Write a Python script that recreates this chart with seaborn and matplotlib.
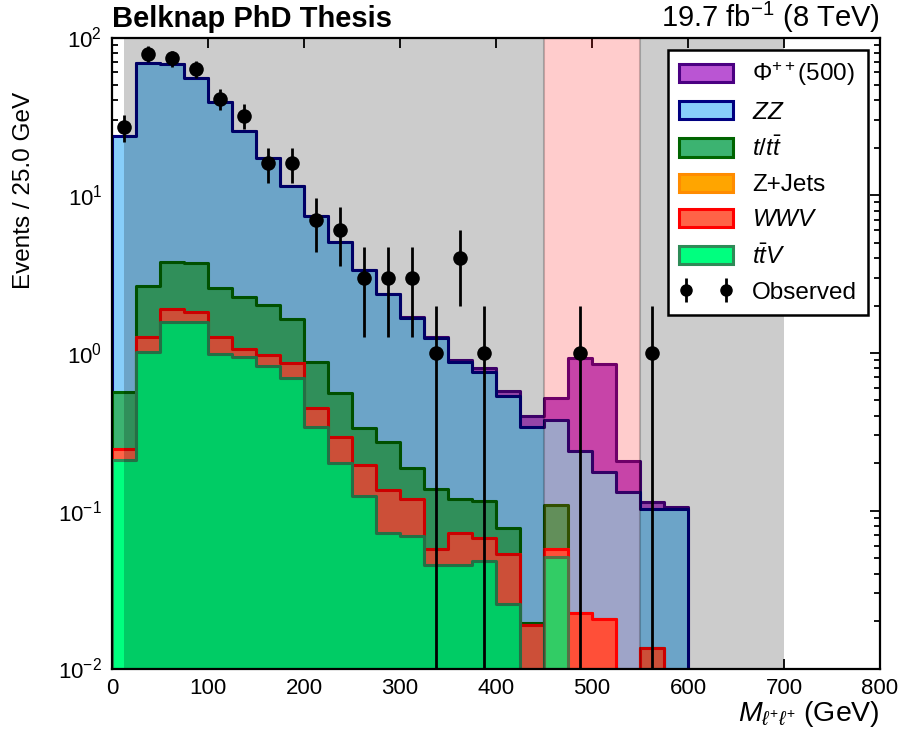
import numpy as np
import pandas as pd
import matplotlib
matplotlib.use("Agg")
import matplotlib.pyplot as plt
from matplotlib.patches import Patch
from matplotlib.ticker import MultipleLocator
import seaborn as sns

# 25 GeV bins from 0 to 600 GeV
bin_edges = np.arange(0, 625, 25)
bin_centers = 0.5 * (bin_edges[:-1] + bin_edges[1:])

# Expected yields per bin for each process
ttv = [0.21, 1.02, 1.57, 1.58, 0.985, 0.947, 0.83, 0.694, 0.342, 0.202, 0.124, 0.072,
       0.069, 0.045, 0.045, 0.048, 0.0255, 0.0, 0.051, 0.0, 0.0, 0.0, 0.0, 0.0]
wwv = [0.036, 0.24, 0.33, 0.23, 0.275, 0.113, 0.14, 0.166, 0.103, 0.09, 0.071, 0.064,
       0.05, 0.0125, 0.0277, 0.0196, 0.0275, 0.019, 0.006, 0.0226, 0.0205, 0.0, 0.0134, 0.0]
zjets = [0.0] * 24
ttbar = [0.317, 1.39, 1.9, 1.9, 1.34, 1.2, 1.05, 0.78, 0.428, 0.265, 0.139, 0.135,
         0.069, 0.0805, 0.0453, 0.0484, 0.025, 0.0005, 0.051, 0.0, 0.0, 0.0, 0.0, 0.0]
zz = [23.24, 66.35, 64.2, 51.29, 36.4, 23.34, 15.28, 9.76, 6.53, 4.49, 3.04, 2.09,
      1.48, 1.11, 0.755, 0.638, 0.457, 0.318, 0.269, 0.216, 0.155, 0.132, 0.089, 0.103]
phi500 = [0.001, 0.001, 0.001, 0.001, 0.001, 0.001, 0.002, 0.002, 0.003, 0.004, 0.006, 0.008,
          0.012, 0.02, 0.03, 0.045, 0.04, 0.06, 0.14, 0.69, 0.67, 0.075, 0.012, 0.002]

# Observed event counts
observed = [27, 79, 74, 63, 41, 32, 16, 16, 7, 6, 3, 3, 3, 1, 4, 1, 0, 0, 0, 1, 0, 0, 1, 0]

# Stack order (bottom to top): label, fill, edge, yields
processes = [
    (r"$t\bar{t}V$", "springgreen", "seagreen", ttv),
    (r"$WWV$", "tomato", "red", wwv),
    ("Z+Jets", "orange", "darkorange", zjets),
    (r"$t/t\bar{t}$", "mediumseagreen", "darkgreen", ttbar),
    (r"$ZZ$", "lightskyblue", "navy", zz),
    (r"$\Phi^{++}$(500)", "mediumorchid", "indigo", phi500),
]

sns.set_style("ticks")
plt.rcParams["font.family"] = ["Liberation Sans", "DejaVu Sans"]
plt.rcParams["mathtext.fontset"] = "custom"
plt.rcParams["mathtext.rm"] = "Liberation Sans"
plt.rcParams["mathtext.it"] = "Liberation Sans:italic"
plt.rcParams["mathtext.bf"] = "Liberation Sans:bold"
for key in ("text.color", "axes.labelcolor", "xtick.color", "ytick.color", "axes.edgecolor"):
    plt.rcParams[key] = "black"

fig = plt.figure(figsize=(9.04, 7.42), dpi=100)
ax = fig.add_axes([112 / 904, 1 - 668.5 / 742, 768 / 904, 631 / 742])
ax.set_yscale("log")

# Cumulative stack tops, drawn from the top layer down so lower layers overlay
cumulative = np.cumsum([np.asarray(p[3], dtype=float) for p in processes], axis=0)
for (label, face, edge, _), top in reversed(list(zip(processes, cumulative))):
    layer = pd.DataFrame({"mass": bin_centers, "yield": top})
    sns.histplot(data=layer, x="mass", weights="yield", binwidth=25,
                 binrange=(bin_edges[0], bin_edges[-1]), element="step",
                 fill=True, color=face, edgecolor=edge, linewidth=2.2,
                 alpha=1.0, ax=ax, zorder=2)

# Selection regions
ax.axvspan(12, 450, facecolor=(0, 0, 0, 0.2), edgecolor="none", zorder=3)
ax.axvspan(450, 550, facecolor=(1, 0, 0, 0.2), edgecolor=(0, 0, 0, 0.22),
           linewidth=1.5, zorder=3)
ax.axvspan(550, 700, facecolor=(0, 0, 0, 0.2), edgecolor="none", zorder=3)

# Observed data with Poisson errors
obs = np.asarray(observed, dtype=float)
mask = obs > 0
ax.errorbar(bin_centers[mask], obs[mask], yerr=np.sqrt(obs[mask]), fmt="none",
            ecolor="black", elinewidth=2.0, capsize=0, zorder=5)
sns.scatterplot(x=bin_centers[mask], y=obs[mask], color="black", s=110,
                edgecolor="black", linewidth=0, zorder=6, ax=ax)

ax.set_xlim(0, 800)
ax.set_ylim(1e-2, 1e2)
ax.xaxis.set_major_locator(MultipleLocator(100))
ax.tick_params(axis="both", which="both", direction="in", top=True, right=True,
               labelsize=16, width=1.3)
ax.tick_params(axis="both", which="major", length=7, pad=7)
ax.tick_params(axis="y", which="minor", length=4)
ax.tick_params(axis="x", which="minor", bottom=False, top=False)
for s in ax.spines.values():
    s.set_linewidth(1.6)
    s.set_zorder(10)

ax.set_ylabel("Events / 25.0 GeV", fontsize=17.5)
ax.yaxis.set_label_coords(-0.1, 0.758)
ax.set_xlabel(r"$M_{\ell^{+}\ell^{+}}$ (GeV)", fontsize=20.5, loc="right")
ax.xaxis.set_label_coords(1.0, -0.048)

ax.text(0.0, 1.016, "Belknap PhD Thesis", transform=ax.transAxes, fontsize=21,
        fontweight="bold", ha="left", va="baseline")
ax.text(1.0, 1.016, r"19.7 fb$^{-1}$ (8 TeV)", transform=ax.transAxes, fontsize=21,
        ha="right", va="baseline")

# Legend: signal first, then backgrounds top-down, then data
handles = [Patch(facecolor=face, edgecolor=edge, linewidth=2.2, label=label)
           for label, face, edge, _ in reversed(processes)]
obs_handle = ax.errorbar([], [], yerr=[], fmt="o", color="black", markersize=8,
                         elinewidth=2.0, capsize=0)
handles.append(obs_handle)
labels = [p[0] for p in reversed(processes)] + ["Observed"]
leg = ax.legend(handles, labels, loc="upper right", fontsize=17.5, numpoints=2,
                frameon=True, fancybox=False, framealpha=1.0, edgecolor="black",
                handlelength=2.22, handleheight=0.78, handletextpad=0.78,
                labelspacing=0.52, borderpad=0.45, borderaxespad=0.5)
leg.get_frame().set_linewidth(1.8)
leg.set_zorder(20)

fig.savefig("out.png", dpi=100)
